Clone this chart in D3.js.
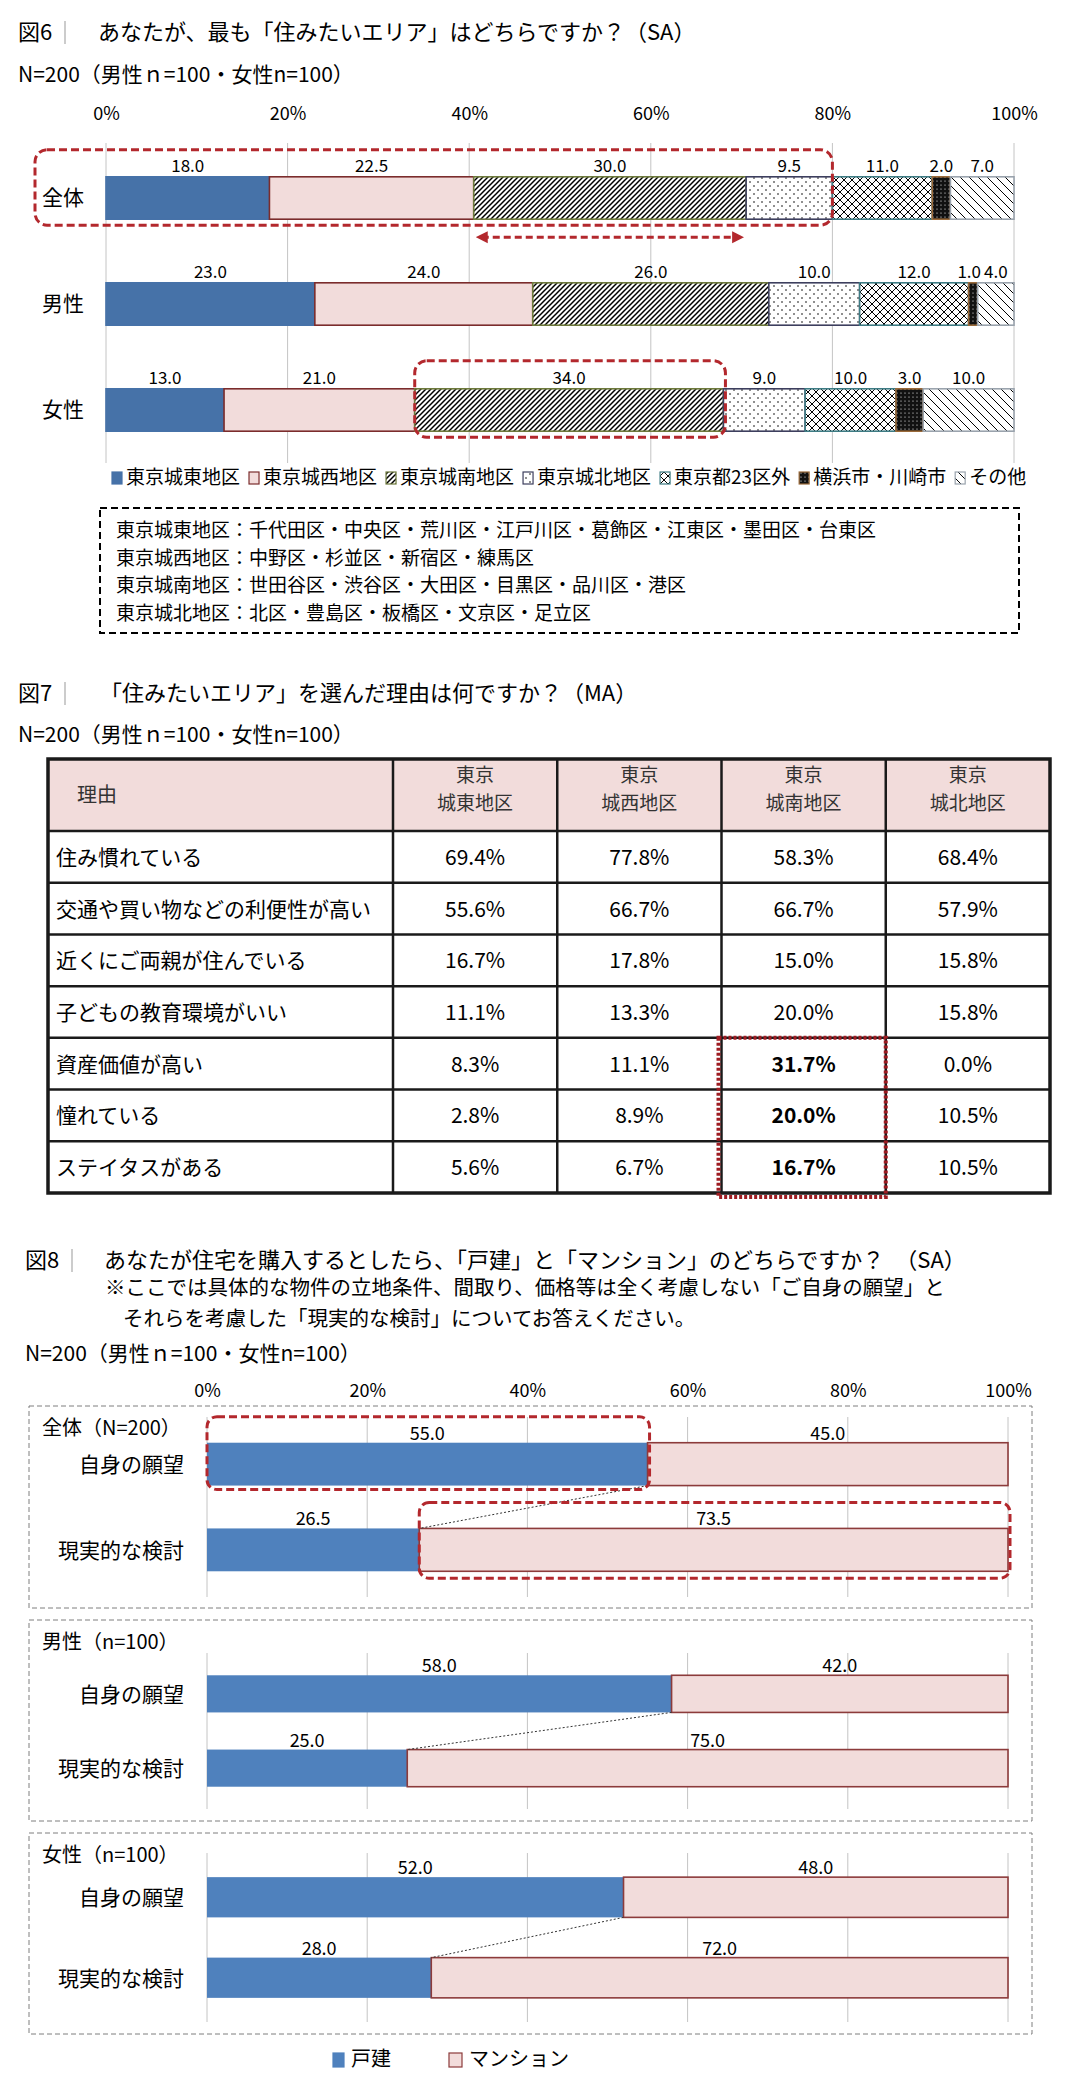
<!DOCTYPE html>
<html>
<head>
<meta charset="utf-8">
<script src="https://cdn.jsdelivr.net/npm/d3@7"></script>
<style>
  body { margin: 0; background: #fff; }
  svg { display: block; font-family: "Noto Sans CJK JP", "Noto Sans", sans-serif; }
</style>
</head>
<body>
<svg id="chart" width="1088" height="2084"></svg>
<script>
// ---- data: fig6 ----
const areaSeries = ["東京城東地区", "東京城西地区", "東京城南地区", "東京城北地区", "東京都23区外", "横浜市・川崎市", "その他"];
const fig6Groups = ["全体", "男性", "女性"];
const fig6Total = [18.0, 22.5, 30.0, 9.5, 11.0, 2.0, 7.0];
const fig6Male = [23.0, 24.0, 26.0, 10.0, 12.0, 1.0, 4.0];
const fig6Female = [13.0, 21.0, 34.0, 9.0, 10.0, 3.0, 10.0];
const pctTicks = [0, 20, 40, 60, 80, 100];
const areaDefs = [
  "東京城東地区：千代田区・中央区・荒川区・江戸川区・葛飾区・江東区・墨田区・台東区",
  "東京城西地区：中野区・杉並区・新宿区・練馬区",
  "東京城南地区：世田谷区・渋谷区・大田区・目黒区・品川区・港区",
  "東京城北地区：北区・豊島区・板橋区・文京区・足立区"
];

// ---- data: fig7 ----
const reasonCols = [["東京", "城東地区"], ["東京", "城西地区"], ["東京", "城南地区"], ["東京", "城北地区"]];
const reasons = ["住み慣れている", "交通や買い物などの利便性が高い", "近くにご両親が住んでいる", "子どもの教育環境がいい", "資産価値が高い", "憧れている", "ステイタスがある"];
const reasonJoto = [69.4, 55.6, 16.7, 11.1, 8.3, 2.8, 5.6];
const reasonJosai = [77.8, 66.7, 17.8, 13.3, 11.1, 8.9, 6.7];
const reasonJonan = [58.3, 66.7, 15.0, 20.0, 31.7, 20.0, 16.7];
const reasonJohoku = [68.4, 57.9, 15.8, 15.8, 0.0, 10.5, 10.5];

// ---- data: fig8 ----
const houseTypes = ["戸建", "マンション"];
const houseRows = ["自身の願望", "現実的な検討"];
const panelTitles = ["全体（N=200）", "男性（n=100）", "女性（n=100）"];
const detachedAll = [55.0, 26.5];
const detachedMale = [58.0, 25.0];
const detachedFemale = [52.0, 28.0];
const mansionAll = [45.0, 73.5];
const mansionMale = [42.0, 75.0];
const mansionFemale = [48.0, 72.0];

const svg = d3.select("#chart");
const defs = svg.append("defs");
const fmt = d3.format(".1f");
const RED = "#b3282d";

function pattern(id, size, bg, draw) {
  const p = defs.append("pattern")
    .attr("id", id)
    .attr("patternUnits", "userSpaceOnUse")
    .attr("width", size)
    .attr("height", size);
  p.append("rect").attr("width", size).attr("height", size).attr("fill", bg);
  draw(p);
}
pattern("hatchS", 5, "#fff", p => p.append("path")
  .attr("d", "M-1,1L1,-1M0,5L5,0M4,6L6,4").attr("stroke", "#000").attr("stroke-width", 1.5));
pattern("dots", 8, "#fff", p => {
  p.append("circle").attr("cx", 2).attr("cy", 2).attr("r", 0.8).attr("fill", "#000");
  p.append("circle").attr("cx", 6).attr("cy", 6).attr("r", 0.8).attr("fill", "#000");
});
pattern("cross", 8, "#fff", p => p.append("path")
  .attr("d", "M0,0L8,8M8,0L0,8").attr("stroke", "#000").attr("stroke-width", 1));
pattern("blackDots", 4, "#111", p => p.append("circle")
  .attr("cx", 1).attr("cy", 1).attr("r", 0.6).attr("fill", "#fff"));
pattern("hatchB", 9, "#fff", p => p.append("path")
  .attr("d", "M0,0L9,9M-1,8L1,10M8,-1L10,1").attr("stroke", "#000").attr("stroke-width", 1));

const areaFills = ["#4672a8", "#f2dcdb", "url(#hatchS)", "url(#dots)", "url(#cross)", "url(#blackDots)", "url(#hatchB)"];
const areaStrokes = ["#4672a8", "#7b2c2c", "#6e7a3c", "#3d3f5e", "#3e7c84", "#9a6a3a", "#9aa3ad"];

// arrow markers
["arrowEnd", "arrowStart"].forEach((id, i) => {
  defs.append("marker")
    .attr("id", id)
    .attr("viewBox", "0 0 10 10")
    .attr("refX", 5).attr("refY", 5)
    .attr("markerWidth", 4).attr("markerHeight", 5)
    .attr("orient", i === 0 ? "auto" : "auto-start-reverse")
    .append("path").attr("d", "M0,0L10,5L0,10z").attr("fill", RED);
});

function title(x, y, num, textX, txt) {
  svg.append("text").attr("x", x).attr("y", y).attr("font-size", 22).text(num);
  svg.append("line").attr("x1", x + 47).attr("x2", x + 47).attr("y1", y - 19).attr("y2", y + 4)
    .attr("stroke", "#999").attr("stroke-width", 1);
  svg.append("text").attr("x", textX).attr("y", y).attr("font-size", 22).text(txt);
}
function nLine(x, y) {
  svg.append("text").attr("x", x).attr("y", y).attr("font-size", 21)
    .text("N=200（男性ｎ=100・女性n=100）");
}

// ================= 図6 =================
title(18, 40, "図6", 98, "あなたが、最も「住みたいエリア」はどちらですか？（SA）");
nLine(18, 82);

const x6 = d3.scaleLinear().domain([0, 100]).range([106, 1014]);
const y6 = d3.scaleBand().domain(fig6Groups).range([145, 463]).paddingInner(0.6).paddingOuter(0.3);

svg.append("g").attr("transform", "translate(0,120)")
  .call(d3.axisTop(x6).tickValues(pctTicks).tickFormat(d => d + "%").tickSize(0).tickPadding(0))
  .call(g => g.select(".domain").remove())
  .call(g => g.selectAll("text").attr("font-size", 18).attr("font-family", "Noto Sans CJK JP").attr("fill", "#000"));

svg.append("g").selectAll("line").data(pctTicks).join("line")
  .attr("x1", d => x6(d)).attr("x2", d => x6(d))
  .attr("y1", 143).attr("y2", 463)
  .attr("stroke", "#c4c4c4").attr("stroke-width", 1);

const fig6Rows = fig6Groups.map((g, i) => {
  const vals = [fig6Total, fig6Male, fig6Female][i];
  const o = { group: g };
  areaSeries.forEach((k, j) => o[k] = vals[j]);
  return o;
});
const stacked6 = d3.stack().keys(areaSeries)(fig6Rows);

const seriesG = svg.append("g").selectAll("g").data(stacked6).join("g");
seriesG.selectAll("rect").data(d => d).join("rect")
  .attr("x", d => x6(d[0]))
  .attr("width", d => x6(d[1]) - x6(d[0]))
  .attr("y", d => y6(d.data.group))
  .attr("height", y6.bandwidth())
  .attr("fill", function () { return areaFills[d3.select(this.parentNode).datum().index]; })
  .attr("stroke", function () { return areaStrokes[d3.select(this.parentNode).datum().index]; })
  .attr("stroke-width", 1.6);

// value labels, one row per group, pushed apart where they would collide
const labelG = svg.append("g");
fig6Groups.forEach(grp => {
  const items = stacked6.map(s => {
    const v = s.find(d => d.data.group === grp);
    return { cx: (x6(v[0]) + x6(v[1])) / 2, text: fmt(v.data[s.key]) };
  });
  const nodes = items.map(it => labelG.append("text")
    .attr("x", it.cx).attr("y", y6(grp) - 5)
    .attr("text-anchor", "middle").attr("font-size", 17).text(it.text));
  for (let i = nodes.length - 2; i >= 0; i--) {
    const a = nodes[i].node().getBBox(), b = nodes[i + 1].node().getBBox();
    const over = a.x + a.width + 3 - b.x;
    if (over > 0) nodes[i].attr("x", +nodes[i].attr("x") - over);
  }
});

svg.append("g").selectAll("text").data(fig6Groups).join("text")
  .attr("x", 42).attr("y", d => y6(d) + y6.bandwidth() / 2 + 7)
  .attr("font-size", 21).text(d => d);

// highlights
{
  const top = y6("全体");
  const cum4 = d3.sum(fig6Total.slice(0, 4));
  svg.append("rect").attr("x", 35).attr("y", top - 27)
    .attr("width", x6(cum4) - 35).attr("height", y6.bandwidth() + 33)
    .attr("rx", 12).attr("fill", "none").attr("stroke", RED)
    .attr("stroke-width", 3).attr("stroke-dasharray", "8,4");
  const a0 = d3.sum(fig6Total.slice(0, 2));
  const a1 = d3.sum(fig6Total.slice(0, 3));
  svg.append("line").attr("x1", x6(a0) + 8).attr("x2", x6(a1) - 8)
    .attr("y1", top + y6.bandwidth() + 18).attr("y2", top + y6.bandwidth() + 18)
    .attr("stroke", RED).attr("stroke-width", 3).attr("stroke-dasharray", "7,4")
    .attr("marker-end", "url(#arrowEnd)").attr("marker-start", "url(#arrowStart)");
  const ft = y6("女性");
  const f0 = d3.sum(fig6Female.slice(0, 2));
  const f1 = d3.sum(fig6Female.slice(0, 3));
  svg.append("rect").attr("x", x6(f0)).attr("y", ft - 28)
    .attr("width", x6(f1) - x6(f0) + 2).attr("height", y6.bandwidth() + 34)
    .attr("rx", 12).attr("fill", "none").attr("stroke", RED)
    .attr("stroke-width", 3).attr("stroke-dasharray", "8,4");
}

// legend
{
  let lx = 112;
  areaSeries.forEach((name, j) => {
    svg.append("rect").attr("x", lx).attr("y", 472).attr("width", 10).attr("height", 12)
      .attr("fill", areaFills[j]).attr("stroke", areaStrokes[j]).attr("stroke-width", 1.2);
    const t = svg.append("text").attr("x", lx + 14).attr("y", 484).attr("font-size", 19).text(name);
    lx += 14 + t.node().getComputedTextLength() + 9;
  });
}

// definition box
svg.append("rect").attr("x", 100).attr("y", 508).attr("width", 919).attr("height", 125)
  .attr("fill", "none").attr("stroke", "#000").attr("stroke-width", 2).attr("stroke-dasharray", "7,4");
svg.append("g").selectAll("text").data(areaDefs).join("text")
  .attr("x", 116).attr("y", (d, i) => 537 + i * 27.6)
  .attr("font-size", 19).text(d => d);

// ================= 図7 =================
title(18, 701, "図7", 100, "「住みたいエリア」を選んだ理由は何ですか？（MA）");
nLine(18, 742);

const tLeft = 48, tRight = 1050, tTop = 759, hBottom = 831, tBottom = 1193;
const rowY = d3.scaleBand().domain(reasons).range([hBottom, tBottom]);
const colX = d3.scaleBand().domain(d3.range(reasonCols.length)).range([393, tRight]);
const reasonVals = [reasonJoto, reasonJosai, reasonJonan, reasonJohoku];

svg.append("rect").attr("x", tLeft).attr("y", tTop).attr("width", tRight - tLeft).attr("height", hBottom - tTop)
  .attr("fill", "#f2dcdb");

// grid lines
const tg = svg.append("g").attr("stroke", "#1a1a1a");
tg.selectAll("line.h").data(reasons).join("line").attr("class", "h")
  .attr("x1", tLeft).attr("x2", tRight)
  .attr("y1", d => rowY(d)).attr("y2", d => rowY(d)).attr("stroke-width", 2.5);
tg.selectAll("line.v").data(d3.range(reasonCols.length)).join("line").attr("class", "v")
  .attr("x1", d => colX(d)).attr("x2", d => colX(d))
  .attr("y1", tTop).attr("y2", tBottom).attr("stroke-width", 2.5);
tg.append("rect").attr("x", tLeft).attr("y", tTop).attr("width", tRight - tLeft).attr("height", tBottom - tTop)
  .attr("fill", "none").attr("stroke-width", 3.5);

svg.append("text").attr("x", 77).attr("y", 802).attr("font-size", 20).attr("fill", "#333").text("理由");
reasonCols.forEach((lines, c) => {
  lines.forEach((ln, k) => {
    svg.append("text").attr("x", colX(c) + colX.bandwidth() / 2).attr("y", 782 + k * 28)
      .attr("text-anchor", "middle").attr("font-size", 19).attr("fill", "#333").text(ln);
  });
});
svg.append("g").selectAll("text").data(reasons).join("text")
  .attr("x", 56).attr("y", d => rowY(d) + rowY.bandwidth() / 2 + 8)
  .attr("font-size", 21).text(d => d);
reasonVals.forEach((vals, c) => {
  svg.append("g").selectAll("text").data(vals).join("text")
    .attr("x", colX(c) + colX.bandwidth() / 2)
    .attr("y", (d, i) => rowY(reasons[i]) + rowY.bandwidth() / 2 + 8)
    .attr("text-anchor", "middle").attr("font-size", 21)
    .attr("font-weight", (d, i) => (c === 2 && i >= 4) ? "bold" : "normal")
    .text(d => fmt(d) + "%");
});
svg.append("rect")
  .attr("x", colX(2) - 3).attr("y", rowY(reasons[4]))
  .attr("width", colX.bandwidth() + 3).attr("height", tBottom - rowY(reasons[4]) + 4)
  .attr("fill", "none").attr("stroke", "#9e1c22").attr("stroke-width", 4).attr("stroke-dasharray", "3,2");

// ================= 図8 =================
title(25, 1268, "図8", 104, "あなたが住宅を購入するとしたら、「戸建」と「マンション」のどちらですか？　（SA）");
svg.append("text").attr("x", 105).attr("y", 1295).attr("font-size", 20.5)
  .text("※ここでは具体的な物件の立地条件、間取り、価格等は全く考慮しない「ご自身の願望」と");
svg.append("text").attr("x", 123).attr("y", 1326).attr("font-size", 20.5)
  .text("それらを考慮した「現実的な検討」についてお答えください。");
nLine(25, 1361);

const x8 = d3.scaleLinear().domain([0, 100]).range([207, 1008]);
svg.append("g").attr("transform", "translate(0,1397)")
  .call(d3.axisTop(x8).tickValues(pctTicks).tickFormat(d => d + "%").tickSize(0).tickPadding(0))
  .call(g => g.select(".domain").remove())
  .call(g => g.selectAll("text").attr("font-size", 18).attr("font-family", "Noto Sans CJK JP").attr("fill", "#000"));

const panels = [
  { title: panelTitles[0], det: detachedAll, man: mansionAll, box: [1406, 1608], grid: [1417, 1597], hl: true },
  { title: panelTitles[1], det: detachedMale, man: mansionMale, box: [1620, 1821], grid: [1653, 1809], hl: false },
  { title: panelTitles[2], det: detachedFemale, man: mansionFemale, box: [1833, 2034], grid: [1853, 2022], hl: false }
];

panels.forEach(p => {
  const g = svg.append("g");
  g.append("rect").attr("x", 29).attr("y", p.box[0]).attr("width", 1003).attr("height", p.box[1] - p.box[0])
    .attr("fill", "none").attr("stroke", "#7f7f7f").attr("stroke-width", 1).attr("stroke-dasharray", "5,3");
  g.append("text").attr("x", 42).attr("y", p.box[0] + 29).attr("font-size", 20).text(p.title);
  const y8 = d3.scaleBand().domain(houseRows).range(p.grid).paddingInner(0.5).paddingOuter(0.3);
  g.selectAll("line.grid").data(pctTicks).join("line").attr("class", "grid")
    .attr("x1", d => x8(d)).attr("x2", d => x8(d))
    .attr("y1", p.grid[0]).attr("y2", p.grid[1])
    .attr("stroke", "#c4c4c4").attr("stroke-width", 1);
  const rows = houseRows.map((r, i) => ({ row: r, 戸建: p.det[i], マンション: p.man[i] }));
  const st = d3.stack().keys(houseTypes)(rows);
  const fills = ["#4f81bd", "#f2dcdb"];
  const strokes = ["#4f81bd", "#8c3b3b"];
  st.forEach((s, j) => {
    g.selectAll("rect.s" + j).data(s).join("rect").attr("class", "s" + j)
      .attr("x", d => x8(d[0])).attr("width", d => x8(d[1]) - x8(d[0]))
      .attr("y", d => y8(d.data.row)).attr("height", y8.bandwidth())
      .attr("fill", fills[j]).attr("stroke", strokes[j]).attr("stroke-width", j === 1 ? 1.6 : 0);
    g.selectAll("text.l" + j).data(s).join("text").attr("class", "l" + j)
      .attr("x", d => (x8(d[0]) + x8(d[1])) / 2).attr("y", d => y8(d.data.row) - 3)
      .attr("text-anchor", "middle").attr("font-size", 18)
      .text(d => fmt(d.data[s.key]));
  });
  g.selectAll("text.cat").data(houseRows).join("text").attr("class", "cat")
    .attr("x", 184).attr("y", d => y8(d) + y8.bandwidth() / 2 + 8)
    .attr("text-anchor", "end").attr("font-size", 21).text(d => d);
  // connector
  g.append("line")
    .attr("x1", x8(p.det[0])).attr("y1", y8(houseRows[0]) + y8.bandwidth())
    .attr("x2", x8(p.det[1])).attr("y2", y8(houseRows[1]))
    .attr("stroke", "#333").attr("stroke-width", 1).attr("stroke-dasharray", "2,2");
  if (p.hl) {
    const b0 = y8(houseRows[0]), b1 = y8(houseRows[1]), bw = y8.bandwidth();
    g.append("rect").attr("x", x8(0)).attr("y", b0 - 26)
      .attr("width", x8(p.det[0]) - x8(0) + 2).attr("height", bw + 30)
      .attr("rx", 10).attr("fill", "none").attr("stroke", RED)
      .attr("stroke-width", 3).attr("stroke-dasharray", "8,4");
    g.append("rect").attr("x", x8(p.det[1])).attr("y", b1 - 26)
      .attr("width", x8(100) - x8(p.det[1]) + 2).attr("height", bw + 33)
      .attr("rx", 10).attr("fill", "none").attr("stroke", RED)
      .attr("stroke-width", 3).attr("stroke-dasharray", "8,4");
  }
});

// fig8 legend
{
  const lg = [{ x: 333, fill: "#4f81bd", stroke: "#4f81bd" }, { x: 449, fill: "#f2dcdb", stroke: "#8c3b3b" }];
  houseTypes.forEach((name, j) => {
    svg.append("rect").attr("x", lg[j].x).attr("y", 2053).attr("width", j ? 13 : 11).attr("height", 14)
      .attr("fill", lg[j].fill).attr("stroke", lg[j].stroke).attr("stroke-width", 1.2);
    svg.append("text").attr("x", lg[j].x + (j ? 20 : 18)).attr("y", 2066).attr("font-size", 20).text(name);
  });
}
</script>
</body>
</html>
